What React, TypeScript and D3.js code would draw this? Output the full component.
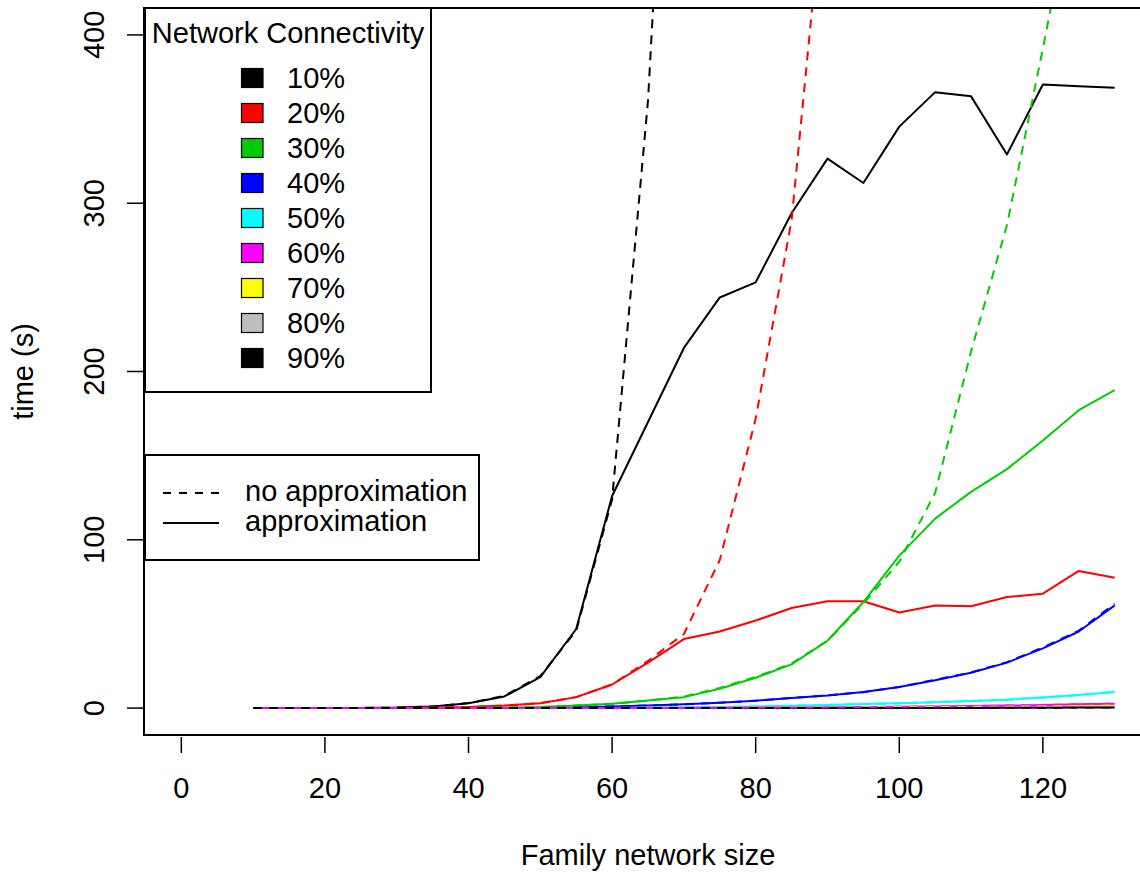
import React from "react";
import * as d3 from "d3";

// Family network sizes on the x axis
const networkSize = [10, 15, 20, 25, 30, 35, 40, 45, 50, 55, 60, 65, 70, 75, 80, 85, 90, 95, 100, 105, 110, 115, 120, 125, 130];

// Run times (s) per connectivity level, with and without approximation
const approx10 = [0, 0, 0, 0.1, 0.3, 1, 2.9, 6.9, 18.4, 47, 126, 170, 214, 244, 253, 294, 326.5, 312, 345.5, 366, 363.5, 329, 370.5, 369.5, 368.6];
const exact10 = [0, 0, 0, 0.1, 0.3, 1, 3, 7.2, 19, 46, 124, 361, 750];
const approx20 = [0, 0, 0, 0, 0.1, 0.3, 0.6, 1.5, 2.9, 6.5, 14, 27, 41, 45.5, 52, 59.5, 63.5, 63.5, 56.8, 61, 60.5, 66, 68, 81.5, 77.5];
const exact20 = [0, 0, 0, 0, 0.1, 0.3, 0.6, 1.5, 2.9, 6.5, 14, 28, 44, 88, 172, 290, 510];
const approx30 = [0, 0, 0, 0, 0, 0, 0.1, 0.3, 0.6, 1.5, 2.5, 4.5, 6.5, 11.5, 18, 26, 40, 63, 90.6, 112.6, 128.5, 142, 159, 177, 189];
const exact30 = [0, 0, 0, 0, 0, 0, 0.1, 0.3, 0.6, 1.5, 2.5, 4.5, 6.8, 12, 18.5, 26.5, 40, 62, 87, 128, 212, 287, 392, 500, 610];
const approx40 = [0, 0, 0, 0, 0, 0, 0, 0, 0.1, 0.3, 1, 1.5, 2.2, 3.2, 4.4, 6, 7.5, 9.5, 12.5, 16.5, 21, 27, 35.5, 45.5, 61];
const exact40 = [0, 0, 0, 0, 0, 0, 0, 0, 0.1, 0.3, 1, 1.5, 2.2, 3.2, 4.4, 6, 7.6, 9.4, 12.5, 16.8, 21.2, 27.3, 36, 46, 62];
const approx50 = [0, 0, 0, 0, 0, 0, 0, 0, 0, 0, 0.1, 0.3, 0.5, 0.7, 1, 1.4, 1.9, 2.4, 2.9, 3.5, 4.2, 5, 6.3, 7.8, 9.5];
const exact50 = [0, 0, 0, 0, 0, 0, 0, 0, 0, 0, 0.1, 0.3, 0.5, 0.7, 1, 1.4, 1.9, 2.4, 2.9, 3.5, 4.2, 5, 6.3, 7.8, 9.6];
const approx60 = [0, 0, 0, 0, 0, 0, 0, 0, 0, 0, 0, 0, 0.1, 0.2, 0.3, 0.4, 0.5, 0.65, 0.8, 1, 1.2, 1.5, 1.8, 2.2, 2.6];
const exact60 = [0, 0, 0, 0, 0, 0, 0, 0, 0, 0, 0, 0, 0.1, 0.2, 0.3, 0.4, 0.5, 0.65, 0.8, 1, 1.2, 1.5, 1.8, 2.2, 2.6];
const approx70 = [0, 0, 0, 0, 0, 0, 0, 0, 0, 0, 0, 0, 0, 0, 0.2, 0.25, 0.3, 0.4, 0.5, 0.6, 0.7, 0.85, 1, 1.2, 1.5];
const exact70 = [0, 0, 0, 0, 0, 0, 0, 0, 0, 0, 0, 0, 0, 0, 0.2, 0.25, 0.3, 0.4, 0.5, 0.6, 0.7, 0.85, 1, 1.2, 1.5];
const approx80 = [0, 0, 0, 0, 0, 0, 0, 0, 0, 0, 0, 0, 0, 0, 0, 0, 0, 0, 0.3, 0.35, 0.4, 0.5, 0.6, 0.7, 0.8];
const exact80 = [0, 0, 0, 0, 0, 0, 0, 0, 0, 0, 0, 0, 0, 0, 0, 0, 0, 0, 0.3, 0.35, 0.4, 0.5, 0.6, 0.7, 0.8];
const approx90 = [0, 0, 0, 0, 0, 0, 0, 0, 0, 0, 0, 0, 0, 0, 0, 0, 0, 0, 0, 0, 0.1, 0.15, 0.2, 0.3, 0.4];
const exact90 = [0, 0, 0, 0, 0, 0, 0, 0, 0, 0, 0, 0, 0, 0, 0, 0, 0, 0, 0, 0, 0.1, 0.15, 0.2, 0.3, 0.4];

const connectivityLabels = ["10%", "20%", "30%", "40%", "50%", "60%", "70%", "80%", "90%"];
const connectivityColors = ["#000000", "#FF0000", "#00CD00", "#0000FF", "#00FFFF", "#FF00FF", "#FFFF00", "#BEBEBE", "#000000"];
const approxSeries = [approx10, approx20, approx30, approx40, approx50, approx60, approx70, approx80, approx90];
const exactSeries = [exact10, exact20, exact30, exact40, exact50, exact60, exact70, exact80, exact90];

// stacking order of the solid lines (magenta ends up above the flat low series)
const solidOrder = [0, 1, 2, 3, 4, 6, 7, 8, 5];

const xTicks = [0, 20, 40, 60, 80, 100, 120];
const yTicks = [0, 100, 200, 300, 400];

const W = 1140;
const H = 878;
const FONT = "'Liberation Sans', Arial, Helvetica, sans-serif";
const FS = 29;

export default function App() {
  const x = d3.scaleLinear().domain([-5.2, 135.2]).range([144, 1152]);
  const y = d3.scaleLinear().domain([-16, 416]).range([735, 8]);
  const [px0, px1] = x.range();
  const [py1, py0] = y.range();

  const line = d3
    .line<number>()
    .x((_, i) => x(networkSize[i]))
    .y((d) => y(d));

  const lg1 = { x: 145, y: 8, w: 286, h: 384 };
  const lg2 = { x: 145, y: 455, w: 334, h: 105 };

  return (
    <div style={{ position: "absolute", left: 0, top: 0 }}>
      <svg width={W} height={H} style={{ display: "block", background: "#fff" }} fontFamily={FONT}>
        <defs>
          <clipPath id="plotClip">
            <rect x={px0} y={py0} width={px1 - px0} height={py1 - py0} />
          </clipPath>
        </defs>
        <rect width={W} height={H} fill="#fff" />

        <g clipPath="url(#plotClip)" fill="none" strokeLinejoin="round">
          {solidOrder.map((k) => (
            <path key={"a" + k} d={line(approxSeries[k]) || ""} stroke={connectivityColors[k]} strokeWidth={2} />
          ))}
          {exactSeries.map((s, k) => (
            <path
              key={"e" + k}
              d={line(s) || ""}
              stroke={connectivityColors[k]}
              strokeWidth={2}
              strokeDasharray="9,7"
            />
          ))}
        </g>

        {/* plot frame */}
        <rect x={px0} y={py0} width={px1 - px0} height={py1 - py0} fill="none" stroke="#000" strokeWidth={2} />

        {/* x axis: ticks and labels */}
        {xTicks.map((t) => (
          <g key={"xt" + t}>
            <line x1={x(t)} x2={x(t)} y1={737} y2={753} stroke="#000" strokeWidth={1.5} />
            <text x={x(t)} y={798} fontSize={FS} textAnchor="middle">
              {t}
            </text>
          </g>
        ))}
        <text x={(px0 + px1) / 2} y={865} fontSize={FS} textAnchor="middle">
          Family network size
        </text>

        {/* y axis: ticks and labels */}
        {yTicks.map((t) => (
          <g key={"yt" + t}>
            <line x1={127} x2={143} y1={y(t)} y2={y(t)} stroke="#000" strokeWidth={1.5} />
            <text
              transform={`translate(104,${y(t)}) rotate(-90)`}
              fontSize={FS}
              textAnchor="middle"
            >
              {t}
            </text>
          </g>
        ))}
        <text transform={`translate(33,${(py0 + py1) / 2}) rotate(-90)`} fontSize={FS} textAnchor="middle">
          time (s)
        </text>

        {/* connectivity legend */}
        <rect x={lg1.x} y={lg1.y} width={lg1.w} height={lg1.h} fill="#fff" stroke="#000" strokeWidth={2} />
        <text x={lg1.x + lg1.w / 2} y={43} fontSize={FS} textAnchor="middle">
          Network Connectivity
        </text>
        {connectivityLabels.map((lab, i) => {
          const cy = 78 + i * 35;
          return (
            <g key={"lg" + lab}>
              <rect x={241.5} y={cy - 9.5} width={21.5} height={19} fill={connectivityColors[i]} stroke="#000" strokeWidth={1.2} />
              <text x={287} y={cy + 10} fontSize={FS}>
                {lab}
              </text>
            </g>
          );
        })}

        {/* line-type legend */}
        <rect x={lg2.x} y={lg2.y} width={lg2.w} height={lg2.h} fill="#fff" stroke="#000" strokeWidth={2} />
        <line x1={163} x2={219} y1={493} y2={493} stroke="#000" strokeWidth={2} strokeDasharray="8,8" />
        <text x={245} y={501} fontSize={FS}>
          no approximation
        </text>
        <line x1={163} x2={219} y1={523} y2={523} stroke="#000" strokeWidth={2} />
        <text x={245} y={531} fontSize={FS}>
          approximation
        </text>
      </svg>
    </div>
  );
}
